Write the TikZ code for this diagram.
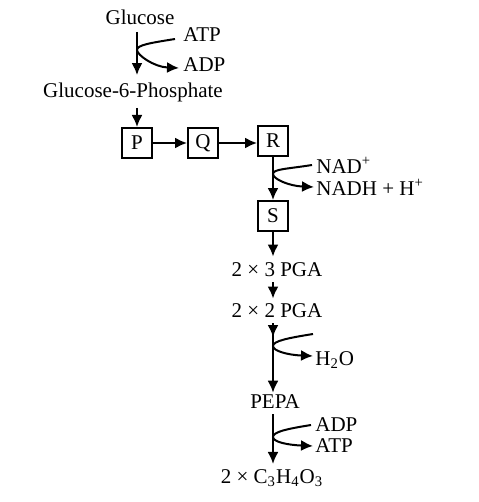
\documentclass[tikz,border=0pt]{standalone}
\usepackage{fontspec}
\setmainfont{Liberation Serif}
\usetikzlibrary{arrows.meta}
\tikzset{
  etape/.style={inner sep=1pt, font=\fontsize{10.5}{12}\selectfont},
  boite/.style={draw, line width=1pt, minimum size=15pt, inner sep=0pt, font=\fontsize{10.5}{12}\selectfont},
  fleche/.style={line width=1pt, ->},
  ecart/.style={shorten <=1.5pt, shorten >=1.5pt}
}
\begin{document}
\begin{tikzpicture}[x=0.5pt, y=-0.5pt, >={Latex[length=6pt,width=5.5pt]}]
        \useasboundingbox (0,0) rectangle (478,502);
        % Glucose -> Glucose-6-Phosphate
        \node[etape] (glu) at (140,17) {Glucose};
        \node[etape, anchor=west] (atpa) at (181,35) {ATP};
        \node[etape, anchor=west] (adpa) at (181,65) {ADP};
        \node[etape] (g6p) at (133,92) {Glucose-6-Phosphate};
        % Boites P, Q, R, S
        \node[boite] (P) at (137,143) {P};
        \node[boite] (Q) at (203,143) {Q};
        \node[boite] (R) at (273,141) {R};
        \node[boite] (S) at (273,216) {S};
        \node[etape, anchor=west] (nad) at (314,165) {NAD\textsuperscript{+}};
        \node[etape, anchor=west] (nadh) at (314,187) {NADH + H\textsuperscript{+}};
        % PGA, PEPA, pyruvate
        \node[etape] (pgatrois) at (277,270) {2 × 3 PGA};
        \node[etape] (pgadeux) at (277,311) {2 × 2 PGA};
        \node[etape, anchor=west] (eau) at (313,360) {H\textsubscript{2}O};
        \node[etape] (pepa) at (275,402) {PEPA};
        \node[etape, anchor=west] (adpb) at (313,425) {ADP};
        \node[etape, anchor=west] (atpb) at (313,446) {ATP};
        \node[etape] (pyr) at (272,478) {2 × C\textsubscript{3}H\textsubscript{4}O\textsubscript{3}};
        % Points de branchement
        \coordinate (b1) at (137,50);
        \coordinate (b2) at (273,174);
        \coordinate (k1) at (273,337);
        \coordinate (b3) at (273,346);
        \coordinate (b4) at (273,437);
        % Fleches principales
        \draw[fleche, shorten <=2.5pt, shorten >=2.5pt] (glu.south -| P) -- (g6p.north -| P);
        \draw[fleche, shorten <=2pt] (g6p.south -| P) -- (P.north);
        \draw[fleche] (P) -- (Q);
        \draw[fleche] (Q.east) -- (Q.east -| R.west);
        \draw[fleche] (R) -- (S);
        \draw[fleche, shorten >=2pt] (S.south) -- (pgatrois.north -| S);
        \draw[fleche, ecart] (pgatrois.south -| S) -- (pgadeux.north -| S);
        \draw[fleche, shorten <=1.5pt] (pgadeux.south -| S) -- (k1);
        \draw[fleche] ([yshift=3pt]k1) -- (pepa.north -| S);
        \draw[fleche, ecart] (pepa.south -| S) -- (pyr.north -| S);
        % Branches laterales
        \draw[fleche] ([xshift=-3pt, yshift=-2pt]atpa.west) .. controls +(-25,4) and +(0,-5) .. (b1)
            .. controls +(0,5) and +(-25,-1) .. ([xshift=-1pt, yshift=-1.5pt]adpa.west);
        \draw[fleche] ([xshift=-1pt]nad.west) .. controls +(-25,4) and +(0,-5) .. (b2)
            .. controls +(0,5) and +(-25,-1) .. (nadh.west);
        \draw[fleche] ([yshift=13pt]eau.west) .. controls +(-25,4) and +(0,-5) .. (b3)
            .. controls +(0,5) and +(-25,-1) .. ([yshift=2pt]eau.west);
        \draw[fleche] ([xshift=-1pt]adpb.west) .. controls +(-25,4) and +(0,-5) .. (b4)
            .. controls +(0,5) and +(-25,-1) .. (atpb.west);
\end{tikzpicture}
\end{document}
